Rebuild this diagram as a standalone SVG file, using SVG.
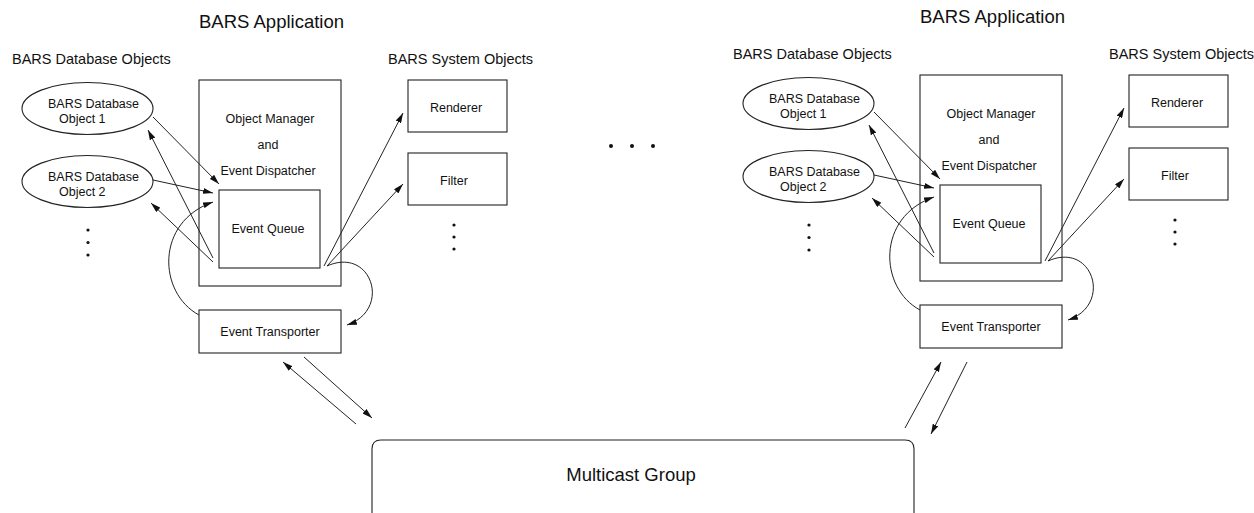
<svg xmlns="http://www.w3.org/2000/svg" width="1254" height="513" viewBox="0 0 1254 513">
<defs>
<style>
text{font-family:"Liberation Sans",Arial,Helvetica,sans-serif;fill:#111}
.title{font-size:18.5px}
.hdr{font-size:14.5px}
.lbl{font-size:12.5px}
.big{font-size:18.5px}
.mid{text-anchor:middle}
.box{fill:#fff;stroke:#222;stroke-width:1.1}
.ell{fill:#fff;stroke:#222;stroke-width:1.1}
.con{fill:none;stroke:#222;stroke-width:1}
.arr{marker-end:url(#ah)}
.dot{fill:#111}
</style>
<marker id="ah" markerUnits="userSpaceOnUse" markerWidth="10" markerHeight="6" refX="10" refY="3" orient="auto">
<path d="M0,0 L10,3 L0,6 z" fill="#111"/>
</marker>
</defs>
<rect width="1254" height="513" fill="#fff"/>

<!-- LEFT APPLICATION -->
<g id="left-app">
<g id="left-title"><text class="title" x="199" y="28">BARS Application</text></g>
<g id="left-db-header"><text class="hdr" x="12" y="64">BARS Database Objects</text></g>
<g id="left-sys-header"><text class="hdr" x="388" y="64">BARS System Objects</text></g>
<g id="left-objmgr">
<rect class="box" x="199" y="80" width="142" height="206"/>
<text class="lbl mid" x="270" y="122.5">Object Manager</text>
<text class="lbl mid" x="268" y="148.5">and</text>
<text class="lbl mid" x="268" y="174.5">Event Dispatcher</text>
</g>
<g id="left-eventqueue">
<rect class="box" x="219" y="190" width="101" height="78"/>
<text class="lbl mid" x="268" y="232.5">Event Queue</text>
</g>
<g id="left-dbobj1">
<ellipse class="ell" cx="87.5" cy="108.5" rx="65.5" ry="26"/>
<text class="lbl" x="48" y="107.5">BARS Database</text>
<text class="lbl" x="59" y="122.5">Object 1</text>
</g>
<g id="left-dbobj2">
<ellipse class="ell" cx="87.5" cy="181.5" rx="65.5" ry="26"/>
<text class="lbl" x="48" y="180.5">BARS Database</text>
<text class="lbl" x="59" y="195.5">Object 2</text>
</g>
<g id="left-db-more">
<circle class="dot" cx="88" cy="230" r="1.6"/>
<circle class="dot" cx="88" cy="242.5" r="1.6"/>
<circle class="dot" cx="88" cy="255" r="1.6"/>
</g>
<g id="left-renderer">
<rect class="box" x="408" y="80" width="99" height="52"/>
<text class="lbl mid" x="456" y="111.5">Renderer</text>
</g>
<g id="left-filter">
<rect class="box" x="408" y="153" width="99" height="52"/>
<text class="lbl mid" x="454" y="184.5">Filter</text>
</g>
<g id="left-sys-more">
<circle class="dot" cx="454" cy="225" r="1.6"/>
<circle class="dot" cx="454" cy="237" r="1.6"/>
<circle class="dot" cx="454" cy="249" r="1.6"/>
</g>
<g id="left-transporter">
<rect class="box" x="199" y="310" width="142" height="43"/>
<text class="lbl mid" x="270" y="336">Event Transporter</text>
</g>
</g>

<!-- RIGHT APPLICATION (same layout, shifted) -->
<g id="right-app" transform="translate(721,-5)">
<g id="right-title"><text class="title" x="199" y="28">BARS Application</text></g>
<g id="right-db-header"><text class="hdr" x="12" y="64">BARS Database Objects</text></g>
<g id="right-sys-header"><text class="hdr" x="388" y="64">BARS System Objects</text></g>
<g id="right-objmgr">
<rect class="box" x="199" y="80" width="142" height="206"/>
<text class="lbl mid" x="270" y="122.5">Object Manager</text>
<text class="lbl mid" x="268" y="148.5">and</text>
<text class="lbl mid" x="268" y="174.5">Event Dispatcher</text>
</g>
<g id="right-eventqueue">
<rect class="box" x="219" y="190" width="101" height="78"/>
<text class="lbl mid" x="268" y="232.5">Event Queue</text>
</g>
<g id="right-dbobj1">
<ellipse class="ell" cx="87.5" cy="108.5" rx="65.5" ry="26"/>
<text class="lbl" x="48" y="107.5">BARS Database</text>
<text class="lbl" x="59" y="122.5">Object 1</text>
</g>
<g id="right-dbobj2">
<ellipse class="ell" cx="87.5" cy="181.5" rx="65.5" ry="26"/>
<text class="lbl" x="48" y="180.5">BARS Database</text>
<text class="lbl" x="59" y="195.5">Object 2</text>
</g>
<g id="right-db-more">
<circle class="dot" cx="88" cy="230" r="1.6"/>
<circle class="dot" cx="88" cy="242.5" r="1.6"/>
<circle class="dot" cx="88" cy="255" r="1.6"/>
</g>
<g id="right-renderer">
<rect class="box" x="408" y="80" width="99" height="52"/>
<text class="lbl mid" x="456" y="111.5">Renderer</text>
</g>
<g id="right-filter">
<rect class="box" x="408" y="153" width="99" height="52"/>
<text class="lbl mid" x="454" y="184.5">Filter</text>
</g>
<g id="right-sys-more">
<circle class="dot" cx="454" cy="225" r="1.6"/>
<circle class="dot" cx="454" cy="237" r="1.6"/>
<circle class="dot" cx="454" cy="249" r="1.6"/>
</g>
<g id="right-transporter">
<rect class="box" x="199" y="310" width="142" height="43"/>
<text class="lbl mid" x="270" y="336">Event Transporter</text>
</g>
</g>

<!-- ellipsis between applications -->
<g id="more-apps">
<circle class="dot" cx="611" cy="146" r="2"/>
<circle class="dot" cx="632" cy="146" r="2"/>
<circle class="dot" cx="653" cy="146" r="2"/>
</g>

<!-- MULTICAST GROUP -->
<g id="multicast">
<path class="box" d="M372,520 V449 Q372,440 381,440 H905 Q914,440 914,449 V520"/>
<text class="big mid" x="631" y="481">Multicast Group</text>
</g>

<!-- CONNECTORS -->
<g id="connectors">
<g id="left-connectors">
<path class="con arr" d="M153,117 L219,184"/>
<path class="con arr" d="M153,180 L213,193"/>
<path class="con arr" d="M213,258 L148,130"/>
<path class="con arr" d="M213,262 L151,203"/>
<path class="con arr" d="M199,315 C158,293 155,222 213,202"/>
<path class="con arr" d="M324,266 L403,113"/>
<path class="con arr" d="M327,266 L403,184"/>
<path class="con arr" d="M327,266 C372,246 392,310 347,325"/>
</g>
<g id="right-connectors" transform="translate(721,-5)">
<path class="con arr" d="M153,117 L219,184"/>
<path class="con arr" d="M153,180 L213,193"/>
<path class="con arr" d="M213,258 L148,130"/>
<path class="con arr" d="M213,262 L151,203"/>
<path class="con arr" d="M199,315 C158,293 155,222 213,202"/>
<path class="con arr" d="M324,266 L403,113"/>
<path class="con arr" d="M327,266 L403,184"/>
<path class="con arr" d="M327,266 C372,246 392,310 347,325"/>
</g>
<g id="network-connectors">
<path class="con arr" d="M356,424 L283,362"/>
<path class="con arr" d="M304,357 L372,418"/>
<path class="con arr" d="M905,428 L941,362"/>
<path class="con arr" d="M967,362 L931,434"/>
</g>
</g>
</svg>
